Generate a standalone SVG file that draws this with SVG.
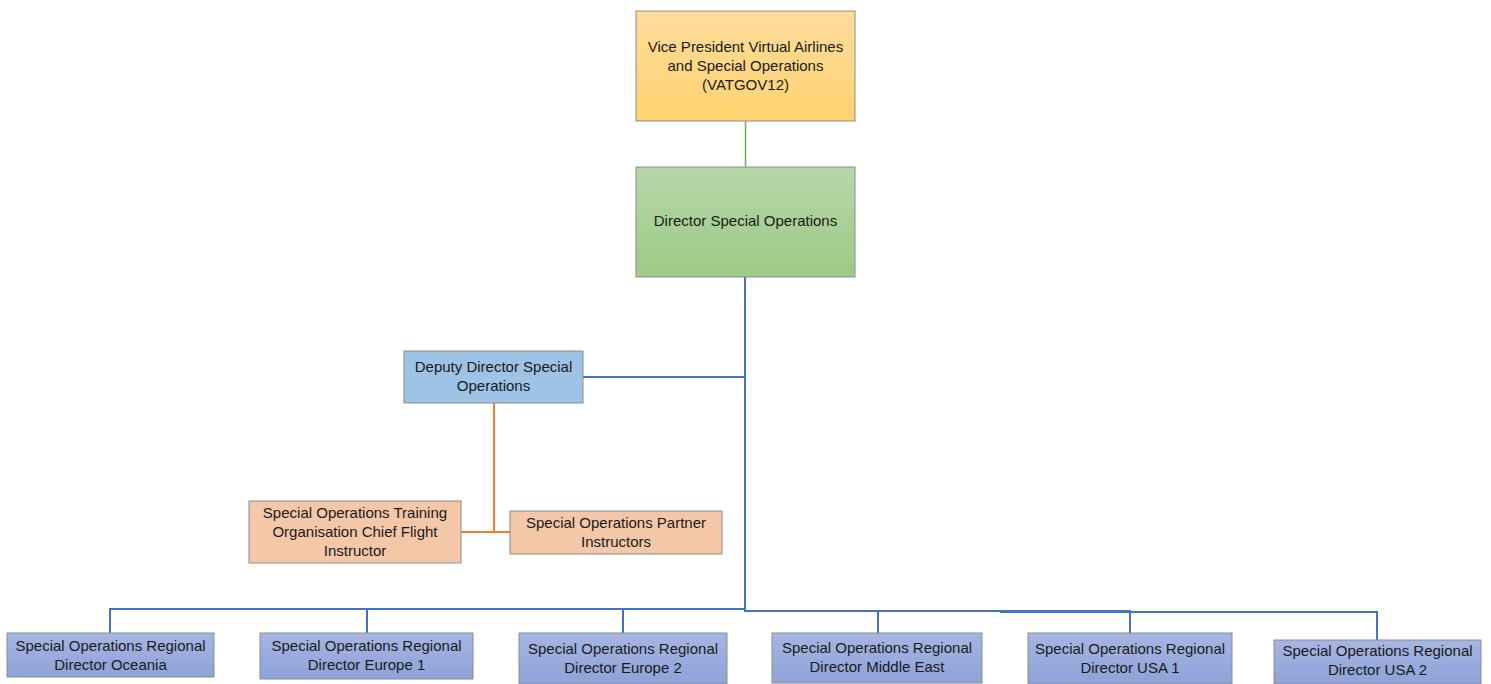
<svg xmlns="http://www.w3.org/2000/svg" width="1491" height="684" viewBox="0 0 1491 684">
<defs>
<linearGradient id="gOr" x1="0" y1="0" x2="0" y2="1"><stop offset="0" stop-color="#FFDC9C"/><stop offset="1" stop-color="#FFD270"/></linearGradient>
<linearGradient id="gGr" x1="0" y1="0" x2="0" y2="1"><stop offset="0" stop-color="#B6D7A8"/><stop offset="1" stop-color="#9DCA87"/></linearGradient>
<linearGradient id="gBl" x1="0" y1="0" x2="0" y2="1"><stop offset="0" stop-color="#A6B6E2"/><stop offset="1" stop-color="#8EA2D8"/></linearGradient>
</defs>
<style>
.box{stroke:#8C8C8C;stroke-width:1}
.t{font-family:"Liberation Sans",Arial,sans-serif;font-size:15px;fill:#1a1a1a;text-anchor:middle}
.cb{fill:none;stroke:#4472C4;stroke-width:2}
.cg{fill:none;stroke:#70AD47;stroke-width:1.5}
.co{fill:none;stroke:#ED7D31;stroke-width:2}
</style>
<rect width="1491" height="684" fill="#FFFFFF"/>
<g id="connectors">
<path class="cg" d="M745.5 121 V167"/>
<path class="cb" d="M745 277 V610"/>
<path class="cb" d="M583 377 H745"/>
<path class="co" d="M494 403 V532 M461 532 H510"/>
<path class="cb" d="M110 633 V609 H745 M367 609 V633 M623 609 V633"/>
<path class="cb" d="M745 609 V611 H878 V633 M878 611 H1130 V633"/>
<path class="cb" d="M1000 612 H1377 V640"/>
</g>
<g id="vp"><rect class="box" x="636" y="11" width="219" height="110" fill="url(#gOr)"/>
<text class="t" x="745.5" y="52">Vice President Virtual Airlines</text><text class="t" x="745.5" y="71">and Special Operations</text><text class="t" x="745.5" y="90">(VATGOV12)</text></g>
<g id="director"><rect class="box" x="636" y="167" width="219" height="110" fill="url(#gGr)"/>
<text class="t" x="745.5" y="226">Director Special Operations</text></g>
<g id="deputy"><rect class="box" x="404" y="351" width="179" height="52" fill="#9DC3E6"/>
<text class="t" x="493.5" y="372">Deputy Director Special</text><text class="t" x="493.5" y="391">Operations</text></g>
<g id="training"><rect class="box" x="249" y="501" width="212" height="62" fill="#F4C7A8"/>
<text class="t" x="355" y="518">Special Operations Training</text><text class="t" x="355" y="537">Organisation Chief Flight</text><text class="t" x="355" y="556">Instructor</text></g>
<g id="partner"><rect class="box" x="510" y="511" width="212" height="43" fill="#F4C7A8"/>
<text class="t" x="616" y="528">Special Operations Partner</text><text class="t" x="616" y="547">Instructors</text></g>
<g id="oceania"><rect class="box" x="7" y="633" width="207" height="44" fill="url(#gBl)"/>
<text class="t" x="110.5" y="651">Special Operations Regional</text><text class="t" x="110.5" y="670">Director Oceania</text></g>
<g id="europe1"><rect class="box" x="260" y="633" width="213" height="46" fill="url(#gBl)"/>
<text class="t" x="366.5" y="651">Special Operations Regional</text><text class="t" x="366.5" y="670">Director Europe 1</text></g>
<g id="europe2"><rect class="box" x="519" y="633" width="208" height="51" fill="url(#gBl)"/>
<text class="t" x="623" y="654">Special Operations Regional</text><text class="t" x="623" y="673">Director Europe 2</text></g>
<g id="middleeast"><rect class="box" x="772" y="633" width="210" height="50" fill="url(#gBl)"/>
<text class="t" x="877" y="653">Special Operations Regional</text><text class="t" x="877" y="672">Director Middle East</text></g>
<g id="usa1"><rect class="box" x="1028" y="633" width="204" height="51" fill="url(#gBl)"/>
<text class="t" x="1130" y="654">Special Operations Regional</text><text class="t" x="1130" y="673">Director USA 1</text></g>
<g id="usa2"><rect class="box" x="1274" y="640" width="207" height="44" fill="url(#gBl)"/>
<text class="t" x="1377.5" y="656">Special Operations Regional</text><text class="t" x="1377.5" y="675">Director USA 2</text></g>
</svg>
